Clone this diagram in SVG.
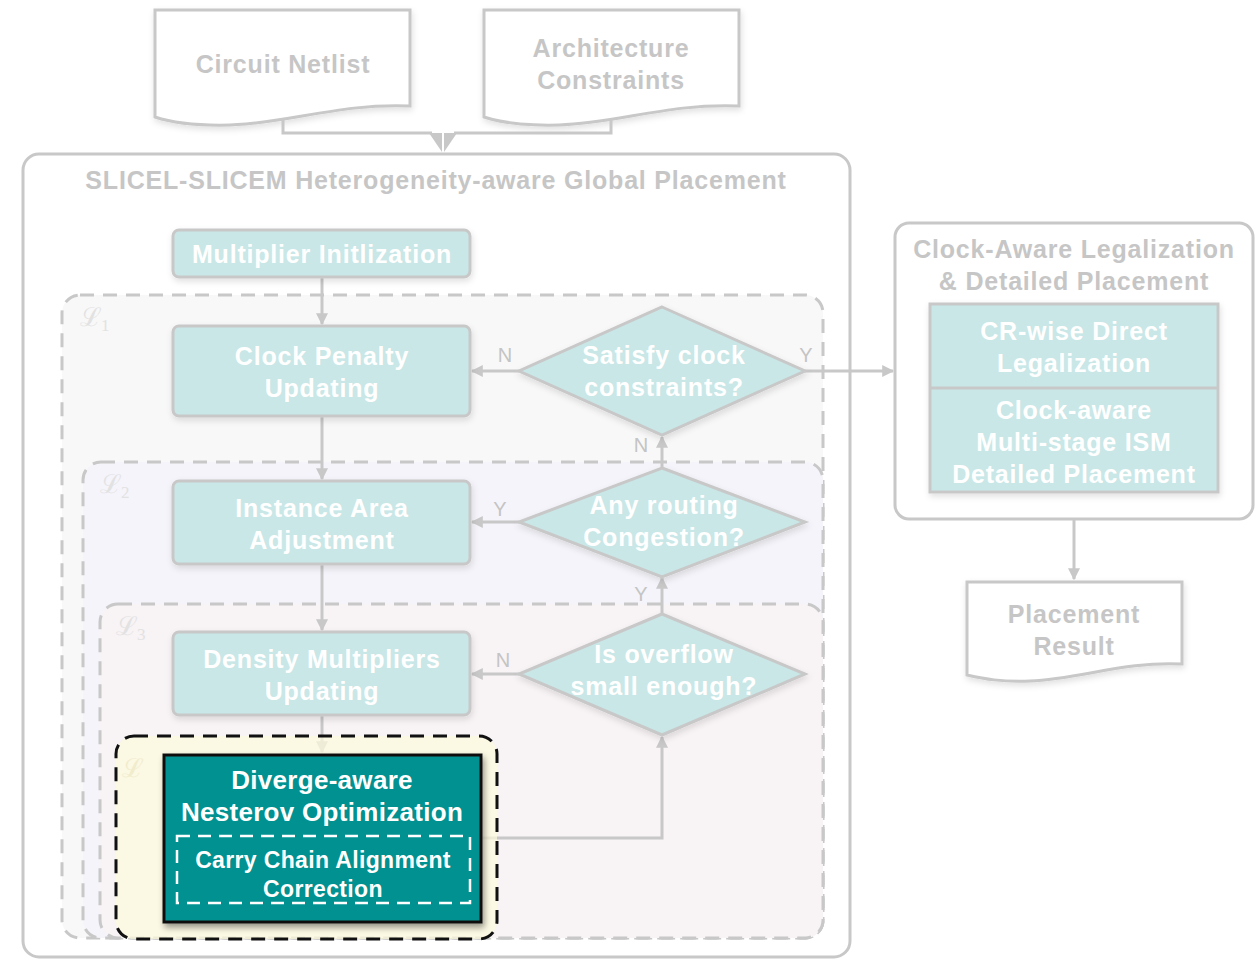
<svg xmlns="http://www.w3.org/2000/svg" width="1255" height="961" viewBox="0 0 1255 961">
  <defs>
    <style>
      .lbl { font-family: "Liberation Sans", Arial, sans-serif; font-weight: bold; font-size: 25px; letter-spacing: 0.8px; text-anchor: middle; }
      .fade { fill: #c6c6c6; }
      .wt { fill: #ffffff; }
      .yn { font-family: "Liberation Sans", Arial, sans-serif; font-size: 20px; fill: #c4c4c4; text-anchor: middle; }
      .proc { fill: #c9e7e7; stroke: #c8c8c8; stroke-width: 3; }
      .doc { fill: #ffffff; stroke: #c8c8c8; stroke-width: 3; }
      .frame { fill: #ffffff; stroke: #c8c8c8; stroke-width: 3; }
      .loop { stroke: #c8c8c8; stroke-width: 3; stroke-dasharray: 14 9; }
      .edge { fill: none; stroke: #c8c8c8; stroke-width: 3; }
      .script { font-family: "DejaVu Serif", "Liberation Serif", serif; font-size: 26px; fill: #e2e2e2; }
      .sub { font-family: "Liberation Serif", serif; font-size: 17px; fill: #e2e2e2; }
    </style>
    <marker id="arr" viewBox="0 0 10 10" refX="9" refY="5" markerWidth="13" markerHeight="12" markerUnits="userSpaceOnUse" orient="auto">
      <path d="M0,0 L10,5 L0,10 z" fill="#c8c8c8"/>
    </marker>
    <filter id="sh" x="-10%" y="-10%" width="125%" height="135%">
      <feDropShadow dx="1" dy="3" stdDeviation="3" flood-color="#000" flood-opacity="0.12"/>
    </filter>
    <filter id="shDark" x="-10%" y="-10%" width="125%" height="135%">
      <feDropShadow dx="2" dy="4" stdDeviation="3" flood-color="#000" flood-opacity="0.4"/>
    </filter>
  </defs>

  <!-- input documents -->
  <g id="circuit-netlist">
    <path class="doc" filter="url(#sh)" d="M155,10 H410 V106 C340,103 290,123 230,125 C190,126 170,122 155,117 Z"/>
    <text class="lbl fade" x="283" y="73">Circuit Netlist</text>
  </g>
  <g id="architecture-constraints">
    <path class="doc" filter="url(#sh)" d="M484,10 H739 V106 C669,103 619,123 559,125 C519,126 499,122 484,117 Z"/>
    <text class="lbl fade" x="611" y="57">Architecture</text>
    <text class="lbl fade" x="611" y="89">Constraints</text>
  </g>

  <!-- global placement frame -->
  <g id="global-placement">
    <rect class="frame" x="23" y="154" width="827" height="803" rx="16"/>
    <text class="lbl fade" x="436" y="189">SLICEL-SLICEM Heterogeneity-aware Global Placement</text>
  </g>

  <!-- nested loops -->
  <g id="loop-1">
    <rect class="loop" fill="#f8f8f8" x="62" y="295" width="761" height="643" rx="18"/>
    <text class="script" x="80" y="326">ℒ</text><text class="sub" x="101" y="331">1</text>
  </g>
  <g id="loop-2">
    <rect class="loop" fill="#f5f4fa" x="83" y="462" width="740" height="476" rx="18"/>
    <text class="script" x="100" y="493">ℒ</text><text class="sub" x="121" y="498">2</text>
  </g>
  <g id="loop-3">
    <rect class="loop" fill="#f8f3f5" x="100" y="604" width="723" height="334" rx="18"/>
    <text class="script" x="116" y="635">ℒ</text><text class="sub" x="137" y="640">3</text>
  </g>

  <!-- connectors -->
  <g id="connectors">
    <path class="edge" d="M283,120 V133 H432"/>
    <path class="edge" d="M611,120 V133 H454"/>
    <polygon points="429,133 442,133 442,152" fill="#c8c8c8"/>
    <polygon points="457,133 444,133 444,152" fill="#c8c8c8"/>
    <path class="edge" marker-end="url(#arr)" d="M322,277 V324"/>
    <path class="edge" marker-end="url(#arr)" d="M322,417 V479"/>
    <path class="edge" marker-end="url(#arr)" d="M322,565 V630"/>
    <path class="edge" marker-end="url(#arr)" d="M322,716 V752"/>
    <path class="edge" marker-end="url(#arr)" d="M519,371 H472"/>
    <path class="edge" marker-end="url(#arr)" d="M519,522 H472"/>
    <path class="edge" marker-end="url(#arr)" d="M519,674 H472"/>
    <path class="edge" marker-end="url(#arr)" d="M805,371 H893"/>
    <path class="edge" marker-end="url(#arr)" d="M662,468 V437"/>
    <path class="edge" marker-end="url(#arr)" d="M662,614 V578"/>
    <path class="edge" marker-end="url(#arr)" d="M470,838 H662 V737"/>
    <path class="edge" marker-end="url(#arr)" d="M1074,519 V579"/>
    <text class="yn" x="505" y="362">N</text>
    <text class="yn" x="806" y="362">Y</text>
    <text class="yn" x="641" y="452">N</text>
    <text class="yn" x="500" y="516">Y</text>
    <text class="yn" x="641" y="601">Y</text>
    <text class="yn" x="503" y="667">N</text>
  </g>

  <!-- process nodes -->
  <g id="multiplier-init">
    <rect class="proc" filter="url(#sh)" x="173" y="230" width="297" height="47" rx="6"/>
    <text class="lbl wt" x="322" y="263">Multiplier Initlization</text>
  </g>
  <g id="clock-penalty">
    <rect class="proc" filter="url(#sh)" x="173" y="326" width="297" height="90" rx="6"/>
    <text class="lbl wt" x="322" y="365">Clock Penalty</text>
    <text class="lbl wt" x="322" y="397">Updating</text>
  </g>
  <g id="satisfy-clock">
    <polygon class="proc" filter="url(#sh)" points="662,307 805,371 662,435 519,371"/>
    <text class="lbl wt" x="664" y="364">Satisfy clock</text>
    <text class="lbl wt" x="664" y="396">constraints?</text>
  </g>
  <g id="instance-area">
    <rect class="proc" filter="url(#sh)" x="173" y="481" width="297" height="83" rx="6"/>
    <text class="lbl wt" x="322" y="517">Instance Area</text>
    <text class="lbl wt" x="322" y="549">Adjustment</text>
  </g>
  <g id="routing-congestion">
    <polygon class="proc" filter="url(#sh)" points="662,468 805,522 662,577 519,522"/>
    <text class="lbl wt" x="664" y="514">Any routing</text>
    <text class="lbl wt" x="664" y="546">Congestion?</text>
  </g>
  <g id="density-multipliers">
    <rect class="proc" filter="url(#sh)" x="173" y="632" width="297" height="83" rx="6"/>
    <text class="lbl wt" x="322" y="668">Density Multipliers</text>
    <text class="lbl wt" x="322" y="700">Updating</text>
  </g>
  <g id="overflow-check">
    <polygon class="proc" filter="url(#sh)" points="662,614 805,674 662,735 519,674"/>
    <text class="lbl wt" x="664" y="663">Is overflow</text>
    <text class="lbl wt" x="664" y="695">small enough?</text>
  </g>

  <!-- innermost loop with the Nesterov solver -->
  <g id="loop-4">
    <rect x="116" y="736" width="381" height="203" rx="18" fill="#fcf9dc" fill-opacity="0.72" stroke="#111" stroke-width="3" stroke-dasharray="14 9"/>
    <text class="script" x="122" y="777" style="fill:#f0eccc">ℒ</text>
  </g>
  <g id="nesterov">
    <rect x="164" y="755" width="317" height="167" fill="#009190" stroke="#111" stroke-width="3" filter="url(#shDark)"/>
    <text class="lbl wt" x="322" y="789" style="font-size:26px;letter-spacing:0.3px">Diverge-aware</text>
    <text class="lbl wt" x="322" y="821" style="font-size:26px;letter-spacing:0.3px">Nesterov Optimization</text>
    <rect x="177" y="836" width="293" height="67" fill="none" stroke="#ffffff" stroke-width="2.5" stroke-dasharray="13 8"/>
    <text class="lbl wt" x="323" y="868" style="font-size:23px;letter-spacing:0.35px">Carry Chain Alignment</text>
    <text class="lbl wt" x="323" y="897" style="font-size:23px;letter-spacing:0.35px">Correction</text>
  </g>

  <!-- legalization / detailed placement -->
  <g id="legalization">
    <rect class="frame" x="895" y="223" width="358" height="296" rx="14"/>
    <text class="lbl fade" x="1074" y="258">Clock-Aware Legalization</text>
    <text class="lbl fade" x="1074" y="290">&amp; Detailed Placement</text>
    <rect class="proc" filter="url(#sh)" x="930" y="304" width="288" height="188"/>
    <line x1="930" y1="388" x2="1218" y2="388" stroke="#c8c8c8" stroke-width="3"/>
    <text class="lbl wt" x="1074" y="340">CR-wise Direct</text>
    <text class="lbl wt" x="1074" y="372">Legalization</text>
    <text class="lbl wt" x="1074" y="419">Clock-aware</text>
    <text class="lbl wt" x="1074" y="451">Multi-stage ISM</text>
    <text class="lbl wt" x="1074" y="483">Detailed Placement</text>
  </g>

  <g id="placement-result">
    <path class="doc" filter="url(#sh)" d="M967,582 H1182 V664 C1125,661 1080,679 1030,681 C1000,682 985,679 967,675 Z"/>
    <text class="lbl fade" x="1074" y="623">Placement</text>
    <text class="lbl fade" x="1074" y="655">Result</text>
  </g>
</svg>
